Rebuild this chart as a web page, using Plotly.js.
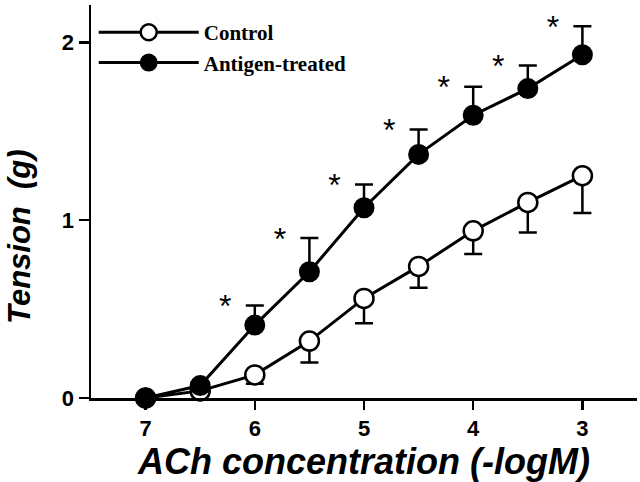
<!DOCTYPE html>
<html>
<head>
<meta charset="utf-8">
<script src="https://cdn.plot.ly/plotly-3.0.1.min.js"></script>
<style>
  body { margin: 0; background: #fff; }
  #chart { width: 640px; height: 482px; }
</style>
</head>
<body>
<div id="chart"></div>
<script>
// ACh concentration (-logM)
const conc = [7, 6.5, 6, 5.5, 5, 4.5, 4, 3.5, 3];

// Tension (g)
const control = [0, 0.04, 0.13, 0.32, 0.56, 0.74, 0.94, 1.10, 1.25];
const controlErr = [0, 0.02, 0.05, 0.12, 0.14, 0.12, 0.13, 0.17, 0.21];

const antigen = [0, 0.07, 0.41, 0.71, 1.07, 1.37, 1.59, 1.74, 1.93];
const antigenErr = [0, 0.02, 0.11, 0.19, 0.13, 0.14, 0.16, 0.13, 0.16];

// puntos con diferencia significativa
const signif = [false, false, true, true, true, true, true, true, true];

const xTicks = [7, 6, 5, 4, 3];
const yTicks = [0, 1, 2];

const starX = [], starY = [];
conc.forEach((c, i) => {
  if (signif[i]) {
    starX.push(c + 0.27);
    starY.push(antigen[i] + antigenErr[i] - 0.02);
  }
});

const traces = [
  {
    x: conc, y: control, name: 'Control',
    mode: 'lines+markers',
    line: { color: '#000', width: 3 },
    marker: { symbol: 'circle', size: 19, color: '#fff', line: { color: '#000', width: 2.5 } },
    error_y: { type: 'data', symmetric: false, array: conc.map(() => 0), arrayminus: controlErr,
               color: '#000', thickness: 2.5, width: 9 },
    cliponaxis: false
  },
  {
    x: conc, y: antigen, name: 'Antigen-treated',
    mode: 'lines+markers',
    line: { color: '#000', width: 3 },
    marker: { symbol: 'circle', size: 19, color: '#000', line: { color: '#000', width: 2 } },
    error_y: { type: 'data', symmetric: false, array: antigenErr, arrayminus: conc.map(() => 0),
               color: '#000', thickness: 2.5, width: 9 },
    cliponaxis: false
  },
  {
    x: starX, y: starY, mode: 'text', text: starX.map(() => '*'),
    textposition: 'middle center',
    textfont: { family: 'Liberation Sans', size: 32, color: '#000' },
    showlegend: false, hoverinfo: 'skip', cliponaxis: false
  }
];

const layout = {
  width: 640, height: 482,
  margin: { l: 91, r: 3, t: 5, b: 84 },
  paper_bgcolor: '#fff', plot_bgcolor: '#fff',
  font: { family: 'Liberation Sans', color: '#000' },
  showlegend: true,
  legend: {
    x: 0.005, y: 0.982, xanchor: 'left', yanchor: 'top',
    bgcolor: 'rgba(0,0,0,0)',
    font: { family: 'Liberation Serif', size: 21, weight: 'bold', color: '#000' },
    itemwidth: 100, tracegroupgap: 2
  },
  xaxis: {
    range: [7.5, 2.5],
    tickvals: xTicks,
    ticktext: xTicks.map(t => '<b>' + t + '</b>'),
    ticks: 'outside', ticklen: 9, tickwidth: 2.5, tickcolor: '#000',
    showline: true, linecolor: '#000', linewidth: 2.5,
    showgrid: false, zeroline: false,
    tickfont: { size: 22 },
    title: { text: 'ACh concentration (-logM)', standoff: 4,
             font: { size: 36, weight: 'bold', style: 'italic' } }
  },
  yaxis: {
    range: [0, 2.21],
    tickvals: yTicks,
    ticktext: yTicks.map(t => '<b>' + t + '</b>'),
    ticks: 'outside', ticklen: 10, tickwidth: 2.5, tickcolor: '#000',
    showline: true, linecolor: '#000', linewidth: 2.5,
    showgrid: false, zeroline: false,
    tickfont: { size: 22 }
  },
  annotations: [{
    text: 'Tension  (g)', textangle: -90,
    xref: 'paper', yref: 'paper', x: -0.13, y: 0.41,
    xanchor: 'center', yanchor: 'middle', showarrow: false,
    font: { size: 31, weight: 'bold', style: 'italic' }
  }]
};

Plotly.newPlot('chart', traces, layout, { displayModeBar: false, staticPlot: true });
</script>
</body>
</html>
